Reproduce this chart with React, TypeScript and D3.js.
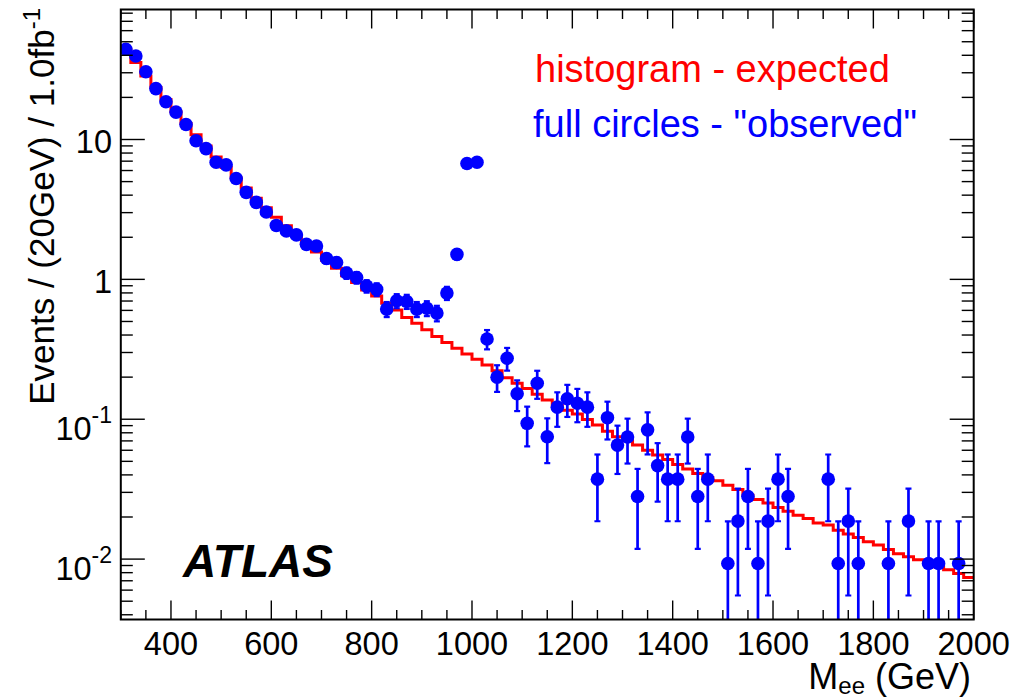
import * as d3 from 'd3';

// 20 GeV bins from 300 to 2000 GeV
const binEdges = d3.range(300, 2001, 20);

// expected events per bin (red histogram)
const expected = [
  44, 35.5, 28.5, 23.5, 19.3, 15.8, 13.0, 10.8, 9.0, 7.5,
  6.3, 5.3, 4.5, 3.8, 3.25, 2.78, 2.42, 2.08, 1.8, 1.57,
  1.37, 1.2, 1.06, 0.95, 0.84, 0.76, 0.675, 0.605, 0.533, 0.486,
  0.436, 0.39, 0.353, 0.322, 0.293, 0.269, 0.244, 0.222, 0.198, 0.181,
  0.166, 0.151, 0.137, 0.126, 0.116, 0.109, 0.0997, 0.0908, 0.0822, 0.075,
  0.0702, 0.0653, 0.0601, 0.0554, 0.0516, 0.0475, 0.044, 0.0409, 0.0383, 0.0363,
  0.0338, 0.0315, 0.0286, 0.0267, 0.0252, 0.0234, 0.022, 0.0206, 0.0195, 0.0181,
  0.0175, 0.0161, 0.0151, 0.0143, 0.0133, 0.0126, 0.0117, 0.0109, 0.0104, 0.0099,
  0.0095, 0.0088, 0.0084, 0.0079, 0.0074,
];

// "observed" events per bin (blue points), 0 = empty bin
const observed = [
  44.2, 39.5, 30.5, 23.1, 18.6, 15.7, 12.8, 9.8, 8.6, 6.87,
  6.59, 5.26, 4.19, 3.55, 3.03, 2.43, 2.22, 2.08, 1.78, 1.73,
  1.41, 1.32, 1.11, 1.03, 0.895, 0.848, 0.613, 0.703, 0.695, 0.613,
  0.622, 0.574, 0.798, 1.51, 6.73, 6.87, 0.375, 0.2, 0.273, 0.152,
  0.0935, 0.181, 0.075, 0.122, 0.14, 0.13, 0.122, 0.0373, 0.1026, 0.0653,
  0.0746, 0.028, 0.084, 0.0466, 0.0373, 0.0373, 0.0746, 0.028, 0.0373, 0,
  0.0093, 0.0187, 0.028, 0.0093, 0.0187, 0.0373, 0.028, 0, 0, 0,
  0.0373, 0.0093, 0.0187, 0.0093, 0, 0, 0.0093, 0, 0.0187, 0,
  0.0093, 0.0093, 0, 0.0093, 0,
];

// weight of a single event (events/bin for n = 1)
const eventWeight = 0.00933;

const xTicks = [400, 600, 800, 1000, 1200, 1400, 1600, 1800, 2000];
const yTicks = [
  { v: 0.01, base: '10', exp: '-2' },
  { v: 0.1, base: '10', exp: '-1' },
  { v: 1, base: '1', exp: '' },
  { v: 10, base: '10', exp: '' },
];

const W = 1028;
const H = 700;
const margin = { left: 120.8, right: 973.7, top: 9.5, bottom: 619.5 };
const yMin = 0.0037;
const yMax = 85;
const font = '"Liberation Sans", Arial, Helvetica, sans-serif';

const App = () => {
  const x = d3.scaleLinear().domain([300, 2000]).range([margin.left, margin.right]);
  const y = d3.scaleLog().domain([yMin, yMax]).range([margin.bottom, margin.top]);

  // histogram step path
  const stepPts: [number, number][] = expected.map((v, i) => [binEdges[i], v]);
  stepPts.push([2000, expected[expected.length - 1]]);
  const histLine = d3.line<[number, number]>()
    .x(d => x(d[0]))
    .y(d => y(d[1]))
    .curve(d3.curveStepAfter);

  const points = observed
    .map((v, i) => ({ c: binEdges[i] + 10, v }))
    .filter(d => d.v > 0);

  const xMinor = d3.range(300, 2001, 50).filter(v => v % 200 !== 0);
  const yMinor: number[] = [];
  for (let e = -3; e <= 1; e++) {
    for (let m = 2; m <= 9; m++) {
      const v = m * Math.pow(10, e);
      if (v > yMin && v < yMax) yMinor.push(v);
    }
  }

  const xMajLen = 19, xMinLen = 9.5, yMajLen = 24, yMinLen = 12;

  return (
    <svg width={W} height={H} style={{ position: 'absolute', left: 0, top: 0, background: '#fff' }}
      fontFamily={font}>
      <defs>
        <clipPath id="frame">
          <rect x={margin.left} y={margin.top} width={margin.right - margin.left} height={margin.bottom - margin.top} />
        </clipPath>
      </defs>

      <g clipPath="url(#frame)">
        <path d={histLine(stepPts) || ''} fill="none" stroke="#ff0000" strokeWidth={3} />
        {points.map((d, i) => {
          const err = Math.sqrt(d.v * eventWeight);
          const hi = d.v + err;
          const lo = d.v - err;
          const px = x(d.c);
          const yHi = y(hi);
          const yLo = lo > yMin ? y(lo) : margin.bottom + 5;
          return (
            <g key={i} stroke="#0000ff">
              <line x1={px} x2={px} y1={yHi} y2={yLo} strokeWidth={2.7} />
              <line x1={px - 3} x2={px + 3} y1={yHi} y2={yHi} strokeWidth={2.2} />
              {lo > yMin && <line x1={px - 3} x2={px + 3} y1={yLo} y2={yLo} strokeWidth={2.2} />}
            </g>
          );
        })}
        {points.map((d, i) => (
          <circle key={i} cx={x(d.c)} cy={y(d.v)} r={6.8} fill="#0000ff" />
        ))}
      </g>

      {/* ticks */}
      <g stroke="#000" strokeWidth={1.4}>
        {xTicks.map(t => (
          <g key={'xt' + t}>
            <line x1={x(t)} x2={x(t)} y1={margin.bottom} y2={margin.bottom - xMajLen} />
            <line x1={x(t)} x2={x(t)} y1={margin.top} y2={margin.top + xMajLen} />
          </g>
        ))}
        {xMinor.map(t => (
          <g key={'xm' + t}>
            <line x1={x(t)} x2={x(t)} y1={margin.bottom} y2={margin.bottom - xMinLen} />
            <line x1={x(t)} x2={x(t)} y1={margin.top} y2={margin.top + xMinLen} />
          </g>
        ))}
        {yTicks.map(t => (
          <g key={'yt' + t.v}>
            <line x1={margin.left} x2={margin.left + yMajLen} y1={y(t.v)} y2={y(t.v)} />
            <line x1={margin.right} x2={margin.right - yMajLen} y1={y(t.v)} y2={y(t.v)} />
          </g>
        ))}
        {yMinor.map(t => (
          <g key={'ym' + t}>
            <line x1={margin.left} x2={margin.left + yMinLen} y1={y(t)} y2={y(t)} />
            <line x1={margin.right} x2={margin.right - yMinLen} y1={y(t)} y2={y(t)} />
          </g>
        ))}
      </g>

      <rect x={margin.left} y={margin.top} width={margin.right - margin.left} height={margin.bottom - margin.top}
        fill="none" stroke="#000" strokeWidth={2} />

      {/* tick labels */}
      {xTicks.map(t => (
        <text key={'xl' + t} x={x(t)} y={655} textAnchor="middle" fontSize={32.5}>{t}</text>
      ))}
      {yTicks.map(t => (
        t.exp ? (
          <text key={'yl' + t.v} x={112} y={y(t.v) + 21} textAnchor="end" fontSize={32.5}>
            {t.base}
            <tspan fontSize={23} dy={-17}>{t.exp}</tspan>
          </text>
        ) : (
          <text key={'yl' + t.v} x={112} y={y(t.v) + 14} textAnchor="end" fontSize={32.5}>{t.base}</text>
        )
      ))}

      {/* axis titles */}
      <text x={971} y={689} textAnchor="end" fontSize={36}>
        M<tspan fontSize={24} dy={5}>ee</tspan><tspan dy={-5}> (GeV)</tspan>
      </text>
      <text transform="translate(54,8) rotate(-90)" textAnchor="end" fontSize={35}>
        Events / (20GeV) / 1.0fb<tspan fontSize={24} dy={-14}>-1</tspan>
      </text>

      {/* legend */}
      <text x={535} y={82} fontSize={38} fill="#ff0000">histogram - expected</text>
      <text x={533} y={137} fontSize={38} fill="#0000ff">full circles - "observed"</text>

      <text x={183} y={577} fontSize={46} fontWeight="bold" fontStyle="italic">ATLAS</text>
    </svg>
  );
};

export default App;
